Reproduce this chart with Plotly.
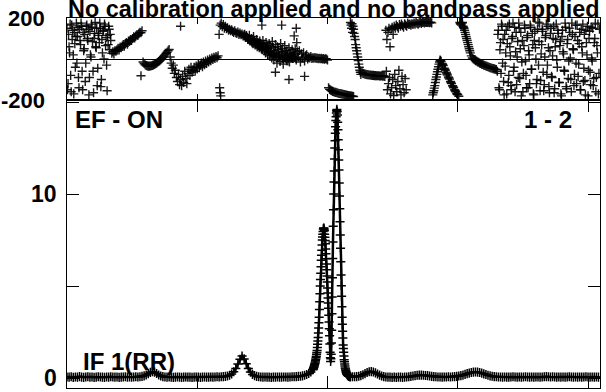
import numpy as np
import plotly.graph_objects as go

# ---------------- data ----------------
# Amplitude spectrum (bottom panel), channel grid pieces
amp_lo_start, amp_lo_step = 0, 2
amp_lo = [0.06, 0.05, 0.07, 0.04, 0.06, 0.05, 0.08, 0.05, 0.04, 0.06, 0.07, 0.05, 0.06, 0.04, 0.05, 0.07, 0.06, 0.05,
          0.04, 0.06, 0.05, 0.07, 0.06, 0.05, 0.06, 0.04, 0.05, 0.06, 0.07, 0.05, 0.06, 0.05, 0.06, 0.07, 0.06, 0.07,
          0.09, 0.12, 0.17, 0.24, 0.31, 0.35, 0.32, 0.25, 0.17, 0.11, 0.08,
          0.06, 0.05, 0.06, 0.05, 0.04, 0.05, 0.06, 0.05, 0.04, 0.05, 0.06, 0.05, 0.05, 0.04, 0.05, 0.06, 0.05, 0.04,
          0.05, 0.06, 0.05, 0.05, 0.06, 0.05, 0.06, 0.07, 0.06, 0.07, 0.08, 0.09,
          0.11, 0.15, 0.22, 0.34, 0.52, 0.76, 1.02, 1.2, 1.04, 0.78, 0.52, 0.33, 0.2, 0.13, 0.09, 0.07,
          0.06, 0.05, 0.06, 0.05, 0.05, 0.04, 0.05, 0.05, 0.06, 0.05, 0.05, 0.06, 0.06, 0.05, 0.06, 0.07, 0.07, 0.08,
          0.09, 0.1, 0.12, 0.15, 0.19, 0.25, 0.33]
amp_pk_start, amp_pk_step = 236, 0.25
amp_pk = [0.45, 0.48, 0.52, 0.56, 0.60, 0.65, 0.70, 0.75, 0.80, 0.87, 0.94, 1.02, 1.10, 1.19, 1.29, 1.39,
          1.50, 1.66, 1.84, 2.02, 2.20, 2.45, 2.72, 3.00, 3.30, 3.72, 4.15, 4.58, 5.00, 5.35, 5.70, 6.05,
          6.40, 6.68, 6.95, 7.23, 7.50, 7.66, 7.82, 7.96, 8.10, 8.14, 8.15, 8.08, 8.00, 7.82, 7.65, 7.48,
          7.30, 7.02, 6.75, 6.48, 6.20, 5.88, 5.55, 5.22, 4.90, 4.62, 4.35, 4.08, 3.80, 3.42, 3.05, 2.68,
          2.30, 1.85, 1.40, 1.10, 0.90, 1.05, 1.30, 1.90, 2.60, 3.50, 4.40, 5.45, 6.50, 7.40, 8.25, 9.15,
          10.00, 10.65, 11.25, 11.90, 12.50, 12.90, 13.30, 13.65, 14.00, 14.20, 14.40, 14.52, 14.60, 14.48,
          14.30, 13.90, 13.50, 12.95, 12.40, 11.85, 11.30, 10.60, 9.90, 9.20, 8.50, 7.78, 7.05, 6.32, 5.60,
          5.02, 4.45, 3.88, 3.30, 2.92, 2.55, 2.18, 1.80, 1.60, 1.40, 1.20, 1.00, 0.88, 0.77, 0.66, 0.55,
          0.49, 0.42, 0.36, 0.30, 0.27, 0.24, 0.21, 0.18, 0.17, 0.15, 0.14, 0.12, 0.11, 0.11, 0.10, 0.09,
          0.09, 0.08, 0.08, 0.08]
amp_hi_start, amp_hi_step = 274, 2
amp_hi = [0.07, 0.07, 0.08, 0.1, 0.13, 0.18,
          0.24, 0.3, 0.34, 0.35, 0.33, 0.28, 0.22, 0.16, 0.11, 0.08,
          0.06, 0.05, 0.05, 0.04, 0.05, 0.04, 0.05, 0.05, 0.04, 0.05, 0.06, 0.07, 0.09, 0.11, 0.13,
          0.15, 0.16, 0.16, 0.15, 0.14, 0.13, 0.11, 0.09, 0.08,
          0.07, 0.06, 0.06, 0.05, 0.06, 0.06, 0.07, 0.06, 0.07, 0.08, 0.09, 0.11, 0.13, 0.16, 0.2, 0.24,
          0.27, 0.3, 0.32, 0.33, 0.32, 0.3, 0.27, 0.23, 0.19, 0.15, 0.12, 0.1, 0.08,
          0.07, 0.06, 0.06, 0.05, 0.06, 0.05, 0.05, 0.06, 0.07, 0.06, 0.05, 0.06, 0.05, 0.06, 0.07, 0.06, 0.05,
          0.06, 0.05, 0.06, 0.06, 0.05, 0.06, 0.07, 0.08, 0.07, 0.06, 0.07, 0.06, 0.05, 0.06, 0.05, 0.06, 0.05,
          0.06, 0.07, 0.06, 0.05, 0.06, 0.05, 0.06, 0.05, 0.06, 0.07, 0.06, 0.05, 0.06, 0.05, 0.06, 0.05]

# Phase (degrees, top panel): consecutive channel runs (start channel, values)
ph_a_start = 0
ph_a = [150, -120, 60, 170, -160, 95, 20, 130, -40, 175, 110, -90, 145, 70, 160, -150, 40, 120, -20, 165, 90,
        -175, 135, 10, 155, -60, 100, 178, 55, -130, 125, 80, 150, -100, 30, 140, 170, 65, -30, 115, 160, 45, 90]
ph_a2_start = 0.5
ph_a2 = [-150, 120, 30, -80, 165, 140, -170, 75, 110, -20, 155, -140, 90, 175, -60, 130, 50, -110, 160, 100,
         145, -90, 20, 170, 85, -165, 125, 60, 150, -45, 115, 175, -135, 95, 135, 0, 160, 105, -155, 70, 145, 120]
ph_b_start = 43
ph_b = [28, 35, 25, 40, 38, 45, 52, 44, 58, 55, 63, 70, 62, 75, 80, 72, 88, 85, 95, 92, 100, 108, 103, 112,
        118, 115, 125, 130, 128, 138]
ph_c_start = 73
ph_c = [-15, -22, -28, -32, -34, -35, -35, -34, -33, -31, -29, -26, -23, -20, -16, -12, -8, -3, 2, 8, 14, 20,
        27, 33, 40, 46]
ph_d_start = 99
ph_d = [10, -20, -45, -30, -70, -55, -90, -110, -75, -125, -100, -130, -85, -115, -60, -95, -120, -70, -50,
        -80, -40, -65]
ph_e_start = 121
ph_e = [-55, -40, -60, -35, -48, -25, -42, -30, -20, -38, -15, -28, -10, -22, -5, -15, 0, -8, 5, -2, 8, 3,
        12, 6, 15]
ph_f_start = 146
ph_f = [120, 165, 175, 158, 168, 150, 160]
ph_g_start = 153
ph_g = [148, 152, 140, 145, 138, 142, 135, 130, 138, 128, 125, 132, 120, 126, 118, 122, 112, 118, 108, 114,
        105, 98, 115, 92, 100, 85, 110, 90, 78, 95, 82, 70, 88, 75, 60, 90, 72, 55, 80, 65, 50, 75, 62,
        40, 85, 55, 30, 70, 20, 60, 45, 10, 75, 35, 50, 0, 65, 25, 40, -10, 55, 30, 15, 45, 28,
        20, 50, -5, 35, 10, 40, -15, 25, 5, 30, -10, 15, 20, 0, 10, 5, 12, 3,
        6, 4, 7, 3, 5, 2, 4, 1, 3, 0, 2, -1, 1, 0, -5]
ph_g2_start = 170.5
ph_g2 = [120, 105, 112, 95, 100, 88, 92, 80, 75, 85, 68, 72, 60, 78, 55, 65, 50, 45, 58, 40, 30, 48, 22, 35,
         15, 28, 5, 20, -5, 12, 25, -20, 8, 18, -12, 30, 2, -25, 10, 15, -8, 20, 5, -15, 12, 8, 3, 10, 6, 4]
ph_h_start = 251
ph_h = [-140, -148, -152, -155, -158, -160, -162, -163, -165, -166, -168, -168, -170, -171, -172, -173, -175,
        -176, -177, -178, -179, -180, -181, -182, -183]
ph_i_start = 276
ph_i = [110, 70, 40, 10, -25, -55, -75]
ph_j_start = 283
ph_j = [-65, -70, -72, -74, -75, -76, -77, -78, -78, -79, -80, -80, -81, -81, -82, -82, -82, -83, -83, -82,
        -84, -83, -85]
ph_k_start = 306
ph_k = [140, 95, 130, 150, 60, 145, 155, 120, 160, 150,
        165, 158, 150, 168, 160, 170, 162, 155, 172, 165, 160, 175, 168, 170, 165,
        172, 168, 175, 170, 178, 173, 170, 176, 180, 174, 178, 179, 176, 180, 178, 178, 179, 177, 180, 176]
ph_l_start = 351
ph_l = [-175, -155, -130, -100, -75, -50, -25, -5, -12, -22, -32, -45, -55, -65, -78, -88, -98, -110, -120,
        -130, -140, -150, -160, -168, -175, -182]
ph_m_start = 377
ph_m = [178, 170, 175, 160, 150, 130, 110, 90, 70, 50, 30, 15]
ph_n_start = 389
ph_n = [5, 0, -3, -8, -10, -14, -16, -20, -22, -25, -27, -30, -32, -34, -36, -38, -40, -42, -44, -45, -47,
        -48, -50, -52]
ph_o_start = 413
ph_o = [-60, 140, -150, 80, 170, -20, -110, 120, 30, -170, 160, -80, 60, -130, 100, 175, -40, -160, 130, 10,
        -90, 150, 50, -180, 90, -70, 165, -10, -140, 115, 40, -120, 155, -50, 70, -175, 135, 0, -100, 180,
        85, -155, 25, 145, -65, -125, 105, 170, -30, 55, -165, 125, -85, 15, 160, -145, 95, -5, 140, -115,
        65, -170, 110, 35, -55, 175, -135, 75, -95, 150, 5, -160, 120, 45, -75, 165, -120, 90, -25, 130,
        -150, 60, 170, -45, -105, 140, 20, -180, 100, -65, 155, -10, -130, 80, 175, -90, 30, -170, 145]
ph_o2_start = 413.5
ph_o2 = [120, -140, 45, -70, 160, 95, -175, -35, 140, 75, -115, 170, 15, -150, 110, -60, 155, 35, -125, 85,
         175, -95, 130, -15, -160, 65, 150, -80, 105, -140, 20, 165, -50, 125, -170, 90, 55, -120, 145, -30,
         175, -105, 70, 135, -155, 10, 115, -75, 160, -135, 40, 150, -90, 100, -165, 60, 170, -40, 125, -115,
         85, -180, 140, 25, -60, 155, -145, 95, -10, 130, -100, 175, 50, -130, 110, -20, 165, -85, 75, -150,
         145, 30, -110, 120, -175, 80, 160, -55, 135, -125, 5, 150, -95, 100, -160, 65, 170, -70]
# isolated extra phase points (channel, degrees)
ph_x_ch = [71, 109, 146.5, 147, 147.5, 187, 206, 218, 220, 220.5, 213, 228, 200,
           272, 272.5, 273, 273.5, 274, 274.5, 275, 275.5,
           276.5, 277.5, 278.5, 279.5, 280.5, 281.5,
           306.5, 307.5, 308.5, 309.5, 310.5, 311.5, 312.5, 313.5, 314.5, 315.5, 316.5, 317.5, 318.5, 319.5,
           320.5, 321.5, 322.5, 323.5, 324.5, 325.5,
           351.5, 352.5, 353.5, 354.5, 355.5, 356.5, 357.5, 358.5, 360.5, 362.5, 364.5, 366.5, 368.5, 370.5,
           372.5, 374.5, 377.5, 378.5, 379.5, 380.5, 381.5, 382.5, 383.5, 384.5, 385.5, 386.5]
ph_x_deg = [-82, 160, -140, -165, -180, 165, 165, 113, 150, 80, -100, -85, -65,
            178, 165, 150, 172, 130, 160, 145, 125,
            95, 55, 25, -8, -40, -65,
            -60, -150, -120, -90, -170, -140, -100, -178, -75, -130, -160, -110, -55, -145,
            -175, -85, -125, -165, -95, -150,
            -165, -142, -115, -88, -62, -38, -15, -8, -27, -50, -72, -93, -115, -135,
            -155, -172, 172, 165, 178, 155, 140, 120, 100, 80, 60, 40]

# axis tick values / labels
amp_ticks = [0, 5, 10, 15]
amp_labels = [(0, "0"), (10, "10")]
ph_ticks = [-200, 200]
ph_labels = [(-200, "-200"), (200, "200")]

title_text = "No calibration applied and no bandpass applied"
label_left = "EF - ON"
label_right = "1 - 2"
label_if = "IF 1(RR)"


def run(start, step, vals):
    return list(start + step * np.arange(len(vals))), list(vals)


ax_ch, ay = [], []
for s, st, v in [(amp_lo_start, amp_lo_step, amp_lo), (amp_pk_start, amp_pk_step, amp_pk),
                 (amp_hi_start, amp_hi_step, amp_hi)]:
    c, y = run(s, st, v)
    ax_ch += c
    ay += y

px_ch, py = [], []
for s, v in [(ph_a_start, ph_a), (ph_a2_start, ph_a2), (ph_b_start, ph_b), (ph_c_start, ph_c),
             (ph_d_start, ph_d), (ph_e_start, ph_e), (ph_f_start, ph_f), (ph_g_start, ph_g),
             (ph_g2_start, ph_g2),
             (ph_h_start, ph_h), (ph_i_start, ph_i), (ph_j_start, ph_j), (ph_k_start, ph_k),
             (ph_l_start, ph_l), (ph_m_start, ph_m), (ph_n_start, ph_n), (ph_o_start, ph_o),
             (ph_o2_start, ph_o2)]:
    c, y = run(s, 1, v)
    px_ch += c
    py += y
px_ch += ph_x_ch
py += ph_x_deg

# ---------------- figure ----------------
W, H = 606, 392
ML, MR, MT, MB = 67, 6, 18, 4
split = (388 - 100) / (H - MT - MB)

FONT = "Liberation Sans, Arial, Helvetica, sans-serif"
marker_amp = dict(symbol="cross-thin", size=6.5, color="black", line=dict(color="black", width=1.5))
marker_ph = dict(symbol="cross-thin", size=6.5, color="black", line=dict(color="rgba(0,0,0,0.9)", width=1.4))

fig = go.Figure()
fig.add_trace(go.Scatter(x=ax_ch, y=ay, mode="lines+markers", xaxis="x", yaxis="y",
                         line=dict(color="black", width=2.5), marker=marker_amp, hoverinfo="skip"))
fig.add_trace(go.Scatter(x=px_ch, y=py, mode="markers", xaxis="x2", yaxis="y2",
                         marker=marker_ph, hoverinfo="skip"))

xr = [0, 511.5]
common_x = dict(range=xr, showline=True, linecolor="black", linewidth=1, mirror="ticks",
                ticks="inside", tickcolor="black", tickwidth=1, tickvals=[125, 250, 375, 500],
                showticklabels=False, showgrid=False, zeroline=False, automargin=False)

fig.update_layout(
    template="none",
    width=W, height=H, margin=dict(l=ML, r=MR, t=MT, b=MB, autoexpand=False),
    paper_bgcolor="white", plot_bgcolor="white", showlegend=False,
    xaxis=dict(domain=[0, 1], anchor="y", ticklen=12, **common_x),
    xaxis2=dict(domain=[0, 1], anchor="y2", ticklen=6, matches="x", **common_x),
    yaxis=dict(domain=[0, split], anchor="x", range=[-0.54, 15.11], tickvals=amp_ticks,
               ticks="inside", ticklen=12, tickcolor="black", showticklabels=False,
               showline=True, linecolor="black", mirror="ticks", showgrid=False, zeroline=False,
               automargin=False),
    yaxis2=dict(domain=[split, 1], anchor="x2", range=[-200, 200], tickvals=ph_ticks,
                ticks="inside", ticklen=12, tickcolor="black", showticklabels=False,
                showline=True, linecolor="black", mirror="ticks", showgrid=False,
                zeroline=True, zerolinecolor="black", zerolinewidth=1, automargin=False),
)

# y tick labels (right-aligned, placed through the axis scales)
for v, t in ph_labels:
    fig.add_annotation(text="<b>%s</b>" % t, xref="paper", yref="y2", x=0, y=v, xshift=-20,
                       xanchor="right", yanchor="middle", showarrow=False,
                       font=dict(family=FONT, size=22, color="black"))
for v, t in amp_labels:
    fig.add_annotation(text="<b>%s</b>" % t, xref="paper", yref="y", x=0, y=v, xshift=-8,
                       xanchor="right", yanchor="middle", showarrow=False,
                       font=dict(family=FONT, size=23, color="black"))


def ann(text, xpx, ypx, xanchor, size=24):
    fig.add_annotation(text="<b>%s</b>" % text, xref="paper", yref="paper",
                       x=(xpx - ML) / (W - ML - MR), y=(H - MB - ypx) / (H - MT - MB),
                       xanchor=xanchor, yanchor="middle", showarrow=False,
                       font=dict(family=FONT, size=size, color="black"))


ann(title_text, 66, 9, "left", 23.4)
ann(label_left, 73, 120, "left")
ann(label_right, 574, 120, "right")
ann(label_if, 81, 361, "left")

fig.write_html("out.html", config={"displayModeBar": False},
               post_script="document.body.style.margin='0px';document.body.style.overflow='hidden';")
